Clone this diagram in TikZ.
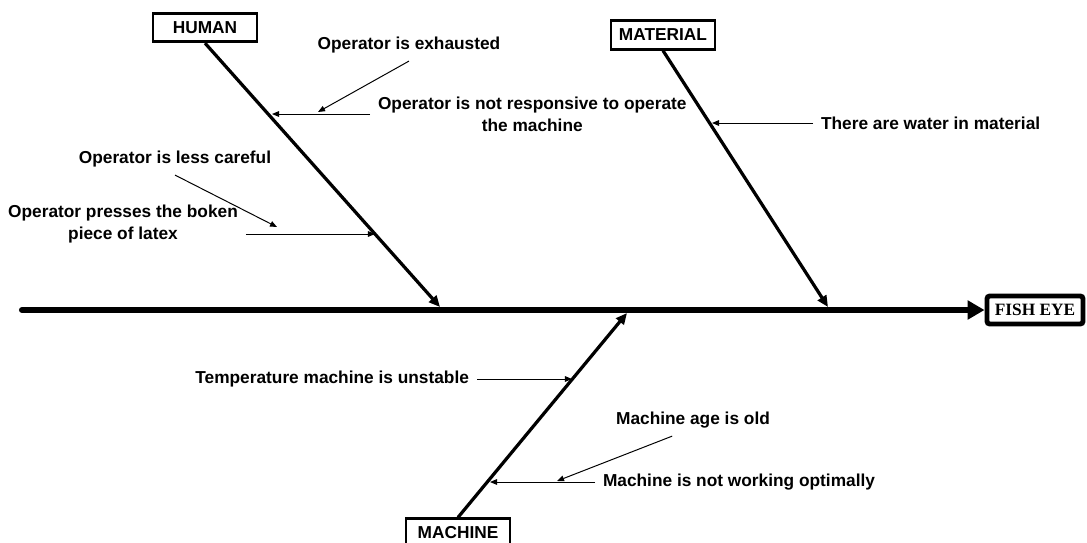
\documentclass[tikz,border=0pt]{standalone}
\usepackage{fontspec}
\setmainfont{Liberation Sans}
\newfontfamily\timesfont{Liberation Serif}
\usetikzlibrary{arrows.meta,positioning}

\begin{document}
\begin{tikzpicture}[
    % pixel-like units
    x=0.025cm, y=-0.025cm,
    every node/.style={
        font=\bfseries\fontsize{12.3}{15.6}\selectfont,
        inner sep=0pt
    },
    % Styles for boxes and lines
    cat box/.style={
        draw,
        line width=2pt,
        minimum width=2.6cm,
        minimum height=0.71cm
    },
    head box/.style={
        draw,
        line width=3.5pt,
        rounded corners=2pt,
        minimum width=2.4cm,
        minimum height=0.7cm,
        font=\timesfont\bfseries\fontsize{12.3}{14}\selectfont
    },
    cause text/.style={align=center, inner sep=5.5pt},
    spine line/.style={line width=4.3pt, line cap=round, -{Triangle[length=12pt,width=13pt]}},
    bone line/.style={line width=2.3pt, -{Triangle[length=8pt,width=7pt]}},
    cause line/.style={line width=0.7pt, -{Triangle[length=5pt,width=4pt]}}
]
    \useasboundingbox (0,0) rectangle (1087,542);

    % Head and spine
    \node[head box] (fisheye) at (1035,310) {FISH EYE};
    \coordinate (tail) at (22,310);
    \draw[spine line] (tail) -- (fisheye.west);

    % Main categories
    \node[cat box] (human) at (205,27.5) {HUMAN};
    \node[cat box] (material) at (663,35) {MATERIAL};
    \node[cat box] (machine) at (458,533) {MACHINE};

    % Bones
    \coordinate (human tip) at (440,307);
    \coordinate (material tip) at (828,307);
    \coordinate (machine tip) at (627,313);
    \draw[bone line] (human.south) -- (human tip);
    \draw[bone line] (material.south) -- (material tip);
    \draw[bone line] (machine.north) -- (machine tip);

    % Human causes
    \node[cause text] (exhausted) at (409,45) {Operator is exhausted};
    \node[cause text, anchor=west] (responsive) at (370,114) {Operator is not responsive to operate\\the machine};
    \node[cause text] (careful) at (175,159) {Operator is less careful};
    \node[cause text] (presses) at (123,224) {Operator presses the boken\\piece of latex};
    \coordinate (responsive end) at (272,114);
    \coordinate (exhausted end) at (318,112);
    \coordinate (presses end) at (375,234);
    \coordinate (careful end) at (277,227);
    \draw[cause line] (responsive.west) -- (responsive end);
    \draw[cause line] (exhausted.south) -- (exhausted end);
    \draw[cause line] (presses.east |- presses end) -- (presses end);
    \draw[cause line] (careful.south) -- (careful end);

    % Material causes
    \node[cause text, anchor=west] (water) at (813,123) {There are water in material};
    \coordinate (water end) at (712,123);
    \draw[cause line] (water.west) -- (water end);

    % Machine causes
    \node[cause text, anchor=east] (temperature) at (477,379) {Temperature machine is unstable};
    \node[cause text] (age) at (693,420) {Machine age is old};
    \node[cause text, anchor=west] (optimal) at (595,482) {Machine is not working optimally};
    \coordinate (temperature end) at (572,379);
    \coordinate (optimal end) at (490,482);
    \coordinate (age end) at (557,481);
    \draw[cause line] (temperature.east) -- (temperature end);
    \draw[cause line] (optimal.west) -- (optimal end);
    \draw[cause line] ([xshift=-0.52cm]age.south) -- (age end);
\end{tikzpicture}
\end{document}
